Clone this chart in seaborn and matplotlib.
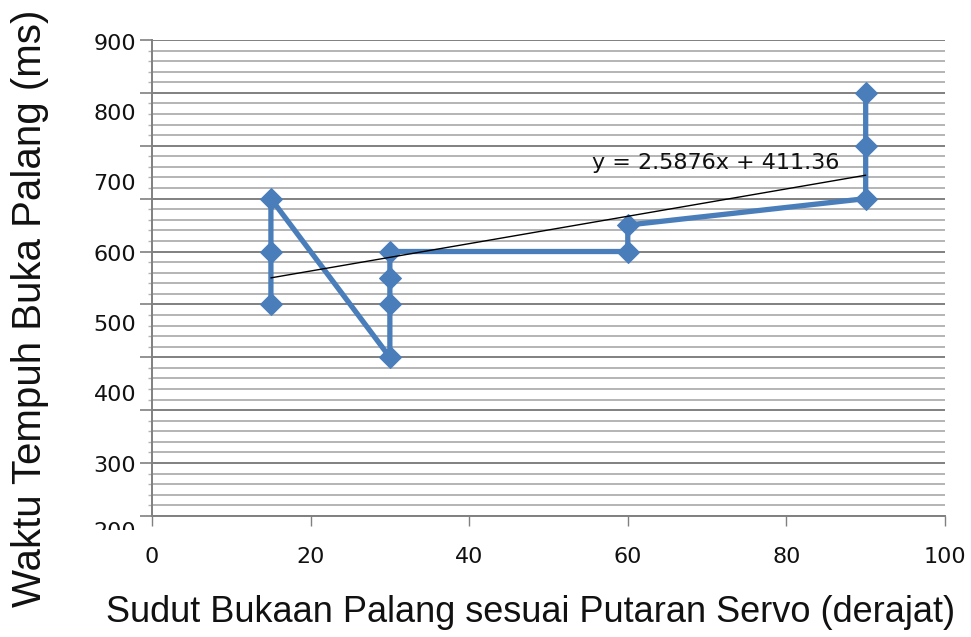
import pandas as pd
import seaborn as sns
import matplotlib.pyplot as plt
from matplotlib import font_manager
from matplotlib.ticker import MultipleLocator
from matplotlib.transforms import Bbox, TransformedBbox

# data (x = servo angle, y = time in ms)
sudut = [15, 15, 15, 30, 30, 30, 30, 60, 60, 90, 90, 90]
waktu = [400, 500, 600, 300, 400, 450, 500, 500, 550, 600, 700, 800]

# excel trendline printed on the chart
trend_slope = 2.5876
trend_intercept = 411.36
trend_x = [15, 90]

x_ticks = [0, 20, 40, 60, 80, 100]
# the printed y labels do not sit on the gridlines in the original
y_label_pos = [893, 760, 627, 494, 361, 228, 95, -30]
y_label_txt = ['900', '800', '700', '600', '500', '400', '300', '200']

blue = '#4a7ebb'
grid_major = '#808080'
grid_minor = '#b4b4b4'

sns.set_style('white')
plt.rcParams['font.family'] = ['DejaVu Sans']

# narrow font for the axis titles if it is there
names = {f.name for f in font_manager.fontManager.ttflist}
if 'Liberation Sans Narrow' in names:
    title_font, ysize, xsize = 'Liberation Sans Narrow', 36, 32
else:
    title_font, ysize, xsize = 'Liberation Sans', 29, 26

fig = plt.figure(figsize=(9.71, 6.37), dpi=100)
ax = fig.add_axes([0.1565, 0.19, 0.8167, 0.7473])

df = pd.DataFrame({'sudut': sudut, 'waktu': waktu})
sns.lineplot(data=df, x='sudut', y='waktu', sort=False, estimator=None,
             color=blue, lw=3.8, marker='D', markersize=11.5,
             markeredgecolor=blue, ax=ax, zorder=3)

trend = pd.DataFrame({'x': trend_x,
                      'y': [trend_slope * v + trend_intercept for v in trend_x]})
sns.lineplot(data=trend, x='x', y='y', color='black', lw=1, ax=ax, zorder=4)

ax.text(55.5, 668, 'y = 2.5876x + 411.36', fontsize=16, va='center', ha='left',
        color='#111111', zorder=5)

ax.set_xlim(0, 100)
ax.set_ylim(0, 900)
ax.set_xticks(x_ticks)
ax.set_xticklabels([str(t) for t in x_ticks], fontsize=16, color='#111111')
ax.yaxis.set_major_locator(MultipleLocator(100))
ax.yaxis.set_minor_locator(MultipleLocator(20))

ax.grid(axis='y', which='major', color=grid_major, lw=1.4)
ax.grid(axis='y', which='minor', color=grid_minor, lw=1.4)
ax.grid(axis='x', visible=False)
ax.set_axisbelow(True)

ax.tick_params(axis='x', bottom=True, direction='out', length=7, width=1,
               color=grid_major, pad=15)
ax.tick_params(axis='y', which='major', left=True, direction='out', length=9,
               width=1.2, color=grid_major, labelleft=False)
ax.tick_params(axis='y', which='minor', left=True, direction='out', length=3,
               width=1, color=grid_minor)

for side in ['top', 'right']:
    ax.spines[side].set_visible(False)
for side in ['left', 'bottom']:
    ax.spines[side].set_color(grid_major)
    ax.spines[side].set_linewidth(1.4)

ax.set_xlabel('')
ax.set_ylabel('')

# y labels placed by hand, bottom one is cut off like in the original
clip = TransformedBbox(Bbox([[0, 0.168], [1, 1]]), fig.transFigure)
for pos, txt in zip(y_label_pos, y_label_txt):
    t = ax.text(-0.02, pos, txt, transform=ax.get_yaxis_transform(),
                ha='right', va='center', fontsize=16, color='#111111',
                clip_on=True)
    t.set_clip_box(clip)

fig.text(531 / 971, 1 - 612 / 637,
         'Sudut Bukaan Palang sesuai Putaran Servo (derajat)',
         family=title_font, fontsize=xsize, ha='center', va='center', color='#111111')
fig.text(30 / 971, 1 - 308 / 637, 'Waktu Tempuh Buka Palang (ms)',
         family=title_font, fontsize=ysize, rotation=90, ha='center', va='center',
         color='#111111')

fig.savefig('out.png', dpi=100)
